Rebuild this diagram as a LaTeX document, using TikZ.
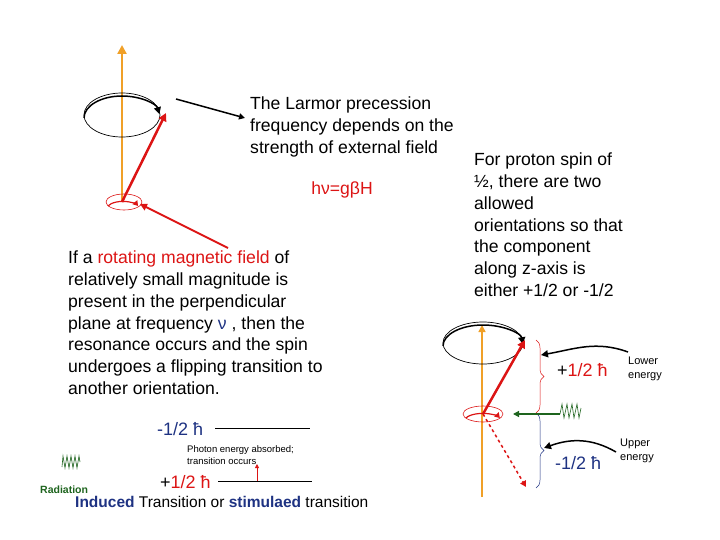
\documentclass[tikz,border=0pt]{standalone}
\usepackage{fontspec}
\setmainfont{Liberation Sans}
\usetikzlibrary{arrows.meta,decorations.pathreplacing}
\definecolor{org}{RGB}{240,160,40}
\definecolor{rd}{RGB}{220,20,20}
\definecolor{bl}{RGB}{30,50,130}
\definecolor{gr}{RGB}{30,100,30}
\tikzset{
 axis/.style={org,line width=2.5pt,-{Triangle[length=9pt,width=9pt]}},
 spin/.style={rd,line width=2.5pt,-{Triangle[length=8pt,width=8pt]}},
 txt/.style={font=\fontsize{17.6}{21.7}\selectfont,align=left,inner sep=0pt},
 lvl/.style={font=\fontsize{18}{22}\selectfont,inner sep=0pt},
 small/.style={font=\fontsize{9.5}{12}\selectfont,align=left,inner sep=0pt},
 wave/.style={gr,line width=0.6pt},
}
\begin{document}
\begin{tikzpicture}[x=1pt,y=-1pt]
\useasboundingbox (0,0) rectangle (720,540);
% left precession
\coordinate (lb) at (122,202); \coordinate (lt) at (122,45);
\draw[axis] (lb) -- (lt);
\draw[black,line width=0.7pt] (122,115) ellipse (38 and 22);
\draw[black,line width=1.5pt,-{Triangle[length=7pt,width=7pt]}] (84,118) arc (180:350:38 and 22);
\draw[rd,line width=0.6pt] (124,202) ellipse (18 and 8);
\draw[rd,line width=1.2pt,-{Triangle[length=5pt,width=6pt]}] (108,206) arc (200:340:16 and 7);
\coordinate (ltip) at (166,113);
\draw[spin] (lb) -- (ltip);
\coordinate (rs) at (228,248); \coordinate (re) at (140,204);
\draw[rd,line width=2pt,-{Triangle[length=7pt,width=7pt]}] (rs) -- (re);
\coordinate (bs) at (176,99); \coordinate (be) at (245,118);
\draw[black,line width=1.5pt,-{Triangle[length=6pt,width=6pt]}] (bs) -- (be);
\node[txt,anchor=north west] (larmor) at (250,97) {The Larmor precession\\frequency depends on the\\strength of external field};
\node[txt,rd] (hv) at (342,190) {hν=gβH};
\node[txt,anchor=north west] (para) at (68,251) {If a \textcolor{rd}{rotating magnetic field} of\\relatively small magnitude is\\present in the perpendicular\\plane at frequency \textcolor{bl}{ν} , then the\\resonance occurs and the spin\\undergoes a flipping transition to\\another orientation.};
\node[txt,anchor=north west] (proton) at (474,153) {For proton spin of\\½, there are two\\allowed\\orientations so that\\the component\\along z-axis is\\either +1/2 or -1/2};
% bottom left
\node[lvl,bl,anchor=west] (m1) at (157,429) {-1/2 ħ};
\draw[black,line width=0.6pt] (215,428) -- (310,428);
\node[lvl,anchor=west] (p1) at (160,482) {+\textcolor{rd}{1/2 ħ}};
\draw[black,line width=0.6pt] (218,481) -- (312,481);
\node[small,anchor=north west] (ph) at (187,445) {Photon energy absorbed;\\transition occurs};
\draw[rd,line width=0.8pt,-{Triangle[length=4pt,width=4pt]}] (257,481) -- (257,464);
\draw[wave] (62,467) -- (63,456) -- (65,468) -- (67,456) -- (69,468) -- (71,456) -- (73,468) -- (75,456) -- (77,468) -- (79,456) -- (80,462);
\node[font=\fontsize{10.5}{12}\selectfont\bfseries,gr,anchor=west,inner sep=0pt] (rad) at (40,490) {Radiation};
\node[font=\fontsize{15.5}{17}\selectfont,anchor=west,inner sep=0pt] (ind) at (75,502) {\textcolor{bl}{\bfseries Induced} Transition or \textcolor{bl}{\bfseries stimulaed} transition};
% right diagram
\coordinate (rb) at (482,497); \coordinate (rt) at (482,325);
\draw[org,line width=1.5pt,-{Triangle[length=7pt,width=7pt]}] (rb) -- (rt);
\draw[black,line width=0.7pt] (483,343) ellipse (40 and 21);
\draw[black,line width=1.5pt,-{Triangle[length=7pt,width=7pt]}] (443,346) arc (180:355:40 and 21);
\draw[rd,line width=0.6pt] (483,414) ellipse (20 and 8);
\draw[rd,line width=1.2pt,-{Triangle[length=5pt,width=6pt]}] (466,418) arc (200:340:18 and 7);
\coordinate (c0) at (483,414); \coordinate (c1) at (525,340); \coordinate (c2) at (526,487);
\draw[spin] (c0) -- (c1);
\draw[rd,line width=1.5pt,dashed,-{Triangle[length=6pt,width=6pt]}] (c0) -- (c2);
\draw[rd,line width=0.5pt,decorate,decoration={brace,amplitude=8pt}] (536,340) -- (536,413);
\draw[bl,line width=0.5pt,decorate,decoration={brace,amplitude=8pt}] (536,413) -- (536,488);
\coordinate (gs) at (560,414); \coordinate (ge) at (513,414);
\draw[gr,line width=1.2pt,-{Triangle[length=6pt,width=6pt]}] (gs) -- (ge);
\draw[wave] (560,414) -- (562,404) -- (564,418) -- (567,404) -- (569,418) -- (572,404) -- (574,418) -- (577,404) -- (579,418) -- (581,408);
\coordinate (la) at (628,352); \coordinate (lae) at (541,355);
\draw[black,line width=1.5pt,-{Triangle[length=7pt,width=7pt]}] (la) to[out=160,in=10] (lae);
\coordinate (ua) at (616,452); \coordinate (uae) at (544,448);
\draw[black,line width=1.5pt,-{Triangle[length=7pt,width=7pt]}] (ua) to[out=150,in=20] (uae);
\node[lvl,anchor=west] (p2) at (557,370) {+\textcolor{rd}{1/2 ħ}};
\node[lvl,bl,anchor=west] (m2) at (555,463) {-1/2 ħ};
\node[font=\fontsize{11}{14}\selectfont,align=left,anchor=west,inner sep=0pt] (lo) at (628,369) {Lower\\energy};
\node[font=\fontsize{11}{14}\selectfont,align=left,anchor=west,inner sep=0pt] (up) at (620,451) {Upper\\energy};
\end{tikzpicture}
\end{document}
